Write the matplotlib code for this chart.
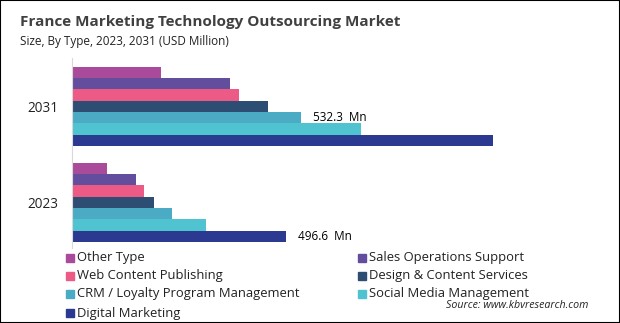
import numpy as np
import matplotlib
matplotlib.use("Agg")
import matplotlib.pyplot as plt
from matplotlib.patches import Rectangle

plt.rcParams["font.family"] = ["Open Sans", "DejaVu Sans"]

years = ["2023", "2031"]
types = ["Other Type", "Sales Operations Support", "Web Content Publishing",
         "Design & Content Services", "CRM / Loyalty Program Management",
         "Social Media Management", "Digital Marketing"]
colors = ["#A94A9A", "#634E9E", "#EC5A86", "#2D4E72", "#4BAAC4", "#4FC3D0", "#2B3990"]
vals_2023 = [81.2, 148.5, 167.0, 190.3, 232.0, 311.0, 496.6]
vals_2031 = [206.5, 366.7, 387.6, 454.9, 532.3, 670.7, 977.0]

W, H = 620, 323
fig = plt.figure(figsize=(W / 100, H / 100), dpi=100)
ax = fig.add_axes([72 / W, 1 - 248 / H, 517 / W, 190 / H])

h = 0.118
ypos = np.arange(len(years))
for j, (name, c) in enumerate(zip(types, colors)):
    vals = [vals_2023[j], vals_2031[j]]
    ax.barh(ypos + (3 - j) * h, vals, height=h, color=c, edgecolor="none")

ax.set_xlim(0, 1200)
ax.set_ylim(-0.474, 1.505)
ax.set_yticks(ypos)
ax.set_yticklabels(years, fontsize=9.8, color="#222222")
ax.tick_params(axis="y", length=0, pad=10)
ax.set_xticks([])
for s in ["top", "right", "bottom"]:
    ax.spines[s].set_visible(False)
ax.spines["left"].set_color("#d9d9d9")

ax.text(vals_2031[4] + 28, 1 + (3 - 4) * h, "532.3  Mn", va="center", fontsize=8.5)
ax.text(vals_2023[6] + 28, 0 + (3 - 6) * h, "496.6  Mn", va="center", fontsize=8.5)

fig.text(20 / W, 1 - 22 / H, "France Marketing Technology Outsourcing Market",
         fontsize=11, fontweight="bold", color="#404040", va="center")
fig.text(20 / W, 1 - 41 / H, "Size, By Type, 2023, 2031 (USD Million)",
         fontsize=8.5, color="#222222", va="center")

rows = [258, 276, 294, 313]
for k, (name, c) in enumerate(zip(types, colors)):
    col, row = k % 2, k // 2
    mx = 66 if col == 0 else 358
    y = 1 - rows[row] / H
    fig.patches.append(Rectangle((mx / W, y - 4 / H), 8 / W, 8 / H,
                                 transform=fig.transFigure, color=c))
    fig.text((mx + 11) / W, y, name, fontsize=9.4, va="center", color="#222222")

fig.text(588 / W, 1 - 306 / H, "Source: www.kbvresearch.com", fontsize=7.7,
         style="italic", ha="right", va="center", color="#222222")

fig.patches.append(Rectangle((0, 0), 1, 1, transform=fig.transFigure,
                             fill=False, edgecolor="black", linewidth=1.5))

fig.savefig("out.png", dpi=100)
